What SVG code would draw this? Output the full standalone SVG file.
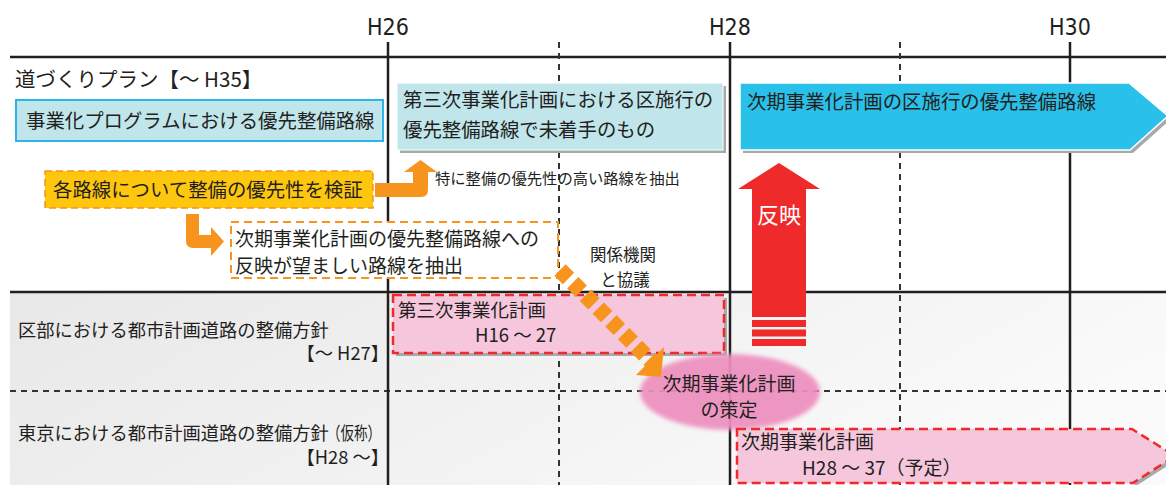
<svg xmlns="http://www.w3.org/2000/svg" width="1166" height="485" viewBox="0 0 1166 485">
<style>
.t{font-family:"Noto Sans CJK JP","Noto Sans",sans-serif;fill:#231f20}
.h{font-family:"Liberation Sans Narrow","DejaVu Sans Condensed","Liberation Sans",sans-serif;font-size:23px;fill:#231f20;text-anchor:middle}
.solid{stroke:#231f20;stroke-width:2.5;fill:none}
.dash{stroke:#333;stroke-width:2;stroke-dasharray:6 5;fill:none}
.shadow{fill:#a7a9ac}
.lb{fill:#c0e6ec}
.pink{fill:#f5c6dc;stroke:#ee2a2a;stroke-width:2.5;stroke-dasharray:9 5}
.orange{fill:#f7941d}
</style>
<defs>
<linearGradient id="bg" x1="0" y1="0" x2="1" y2="0.3">
<stop offset="0" stop-color="#e8e8e9"/>
<stop offset="1" stop-color="#fafafa"/>
</linearGradient>
<filter id="soft" x="-10%" y="-10%" width="120%" height="120%">
<feGaussianBlur stdDeviation="2"/>
</filter>
</defs>
<rect width="1166" height="485" fill="#ffffff"/>
<rect x="10" y="293" width="1156" height="192" fill="url(#bg)"/>

<g id="grid">
<text class="h" x="388" y="35">H26</text>
<text class="h" x="730" y="35">H28</text>
<text class="h" x="1070" y="35">H30</text>
<line class="solid" x1="10" y1="57" x2="1166" y2="57"/>
<line class="solid" x1="10" y1="292" x2="1166" y2="292"/>
<line class="dash" x1="10" y1="391" x2="1166" y2="391"/>
<line class="solid" x1="388" y1="42" x2="388" y2="485"/>
<line class="solid" x1="730" y1="42" x2="730" y2="485"/>
<line class="solid" x1="1070" y1="42" x2="1070" y2="485"/>
<line class="dash" x1="559" y1="42" x2="559" y2="485"/>
<line class="dash" x1="900" y1="42" x2="900" y2="485"/>
</g>

<g id="row-labels">
<text class="t" x="15" y="87" font-size="20.5">道づくりプラン【～ H35】</text>
<text class="t" x="18" y="336.5" font-size="18.3">区部における都市計画道路の整備方針</text>
<text class="t" x="389" y="360" font-size="18.3" text-anchor="end">【～ H27】</text>
<text class="t" x="18" y="440" font-size="18.3">東京における都市計画道路の整備方針<tspan x="327" textLength="54" lengthAdjust="spacingAndGlyphs">（仮称）</tspan></text>
<text class="t" x="389" y="464" font-size="18.3" text-anchor="end">【H28 ～】</text>
</g>

<g id="program-box">
<rect x="16" y="100" width="367" height="41" fill="#c0e6ec" stroke="#29b6e8" stroke-width="2"/>
<text class="t" x="26" y="127.5" font-size="19.4">事業化プログラムにおける優先整備路線</text>
</g>

<g id="verify-box">
<rect x="45" y="171" width="328" height="37" fill="#ffc60e" stroke="#f7941d" stroke-width="1.5" stroke-dasharray="7 4"/>
<text class="t" x="53" y="196.5" font-size="19.4">各路線について整備の優先性を検証</text>
</g>

<g id="third-plan-unstarted">
<rect class="shadow" x="400" y="86" width="326" height="67"/>
<rect class="lb" x="397" y="83" width="326" height="67" stroke="#ffffff" stroke-width="1"/>
<text class="t" x="403" y="106.5" font-size="19.4">第三次事業化計画における区施行の</text>
<text class="t" x="403" y="136.5" font-size="19.4">優先整備路線で未着手のもの</text>
</g>

<g id="next-plan-priority">
<polygon class="shadow" points="743,86 1132,86 1171,119 1133,153 743,153"/>
<polygon points="740,83 1129,83 1168,116 1130,150 740,150" fill="#29c0ea" stroke="#ffffff" stroke-width="1.5"/>
<text class="t" x="747" y="108.5" font-size="19.4">次期事業化計画の区施行の優先整備路線</text>
</g>

<g id="extract-note">
<text class="t" x="435" y="184" font-size="15.3">特に整備の優先性の高い路線を抽出</text>
</g>

<g id="reflect-box">
<rect x="231" y="222" width="327" height="56" fill="#ffffff" stroke="#f7941d" stroke-width="2" stroke-dasharray="8 5"/>
<text class="t" x="235" y="246" font-size="19">次期事業化計画の優先整備路線への</text>
<text class="t" x="235" y="273" font-size="19">反映が望ましい路線を抽出</text>
</g>

<g id="consult-note">
<text class="t" x="623" y="260.5" font-size="16.5" text-anchor="middle">関係機関</text>
<text class="t" x="625" y="286" font-size="16.5" text-anchor="middle">と協議</text>
</g>

<g id="third-plan">
<rect class="shadow" x="396" y="298" width="331" height="58"/>
<rect class="pink" x="393" y="295" width="331" height="58"/>
<text class="t" x="398" y="317" font-size="18.5">第三次事業化計画</text>
<text class="t" x="475" y="342" font-size="18.5">H16 ～ 27</text>
</g>

<g id="next-plan-formulation">
<ellipse cx="730" cy="392" rx="90" ry="38" fill="#ee8fbf" opacity="0.93" filter="url(#soft)"/>
<text class="t" x="729" y="390.5" font-size="19" text-anchor="middle">次期事業化計画</text>
<text class="t" x="729" y="417" font-size="19" text-anchor="middle">の策定</text>
</g>

<g id="next-plan">
<polygon class="shadow" points="1178,459 1136,486 1133,483 1175,456"/>
<polygon class="pink" points="737,429 1132,429 1175,456 1133,483 737,483"/>
<text class="t" x="741" y="449" font-size="19">次期事業化計画</text>
<text class="t" x="802" y="475" font-size="19">H28 ～ 37（予定）</text>
</g>

<g id="connectors">
<path class="orange" d="M375,183 H413 V172 H404 L420.5,160 L437,172 H428 V190 Q428,197 421,197 H375 Z"/>
<path class="orange" d="M186,214 H199 V235 H211 V227 L224,241.5 L211,256 V248 H193 Q186,248 186,241 Z"/>
<line x1="560" y1="270" x2="651" y2="361" stroke="#f7941d" stroke-width="16" stroke-dasharray="12 6"/>
<polygon class="orange" points="664,347 636,375 661,377"/>
<polygon points="752,317 752,189 738,189 779,163 820,189 806,189 806,317" fill="#ee2a2a"/>
<rect x="752" y="320" width="54" height="7" fill="#ee2a2a"/>
<rect x="752" y="329.5" width="54" height="7" fill="#ee2a2a"/>
<rect x="752" y="339" width="54" height="7" fill="#ee2a2a"/>
<text x="779" y="222.5" font-family="Noto Sans CJK JP, sans-serif" font-size="22" fill="#ffffff" text-anchor="middle">反映</text>
</g>
</svg>
